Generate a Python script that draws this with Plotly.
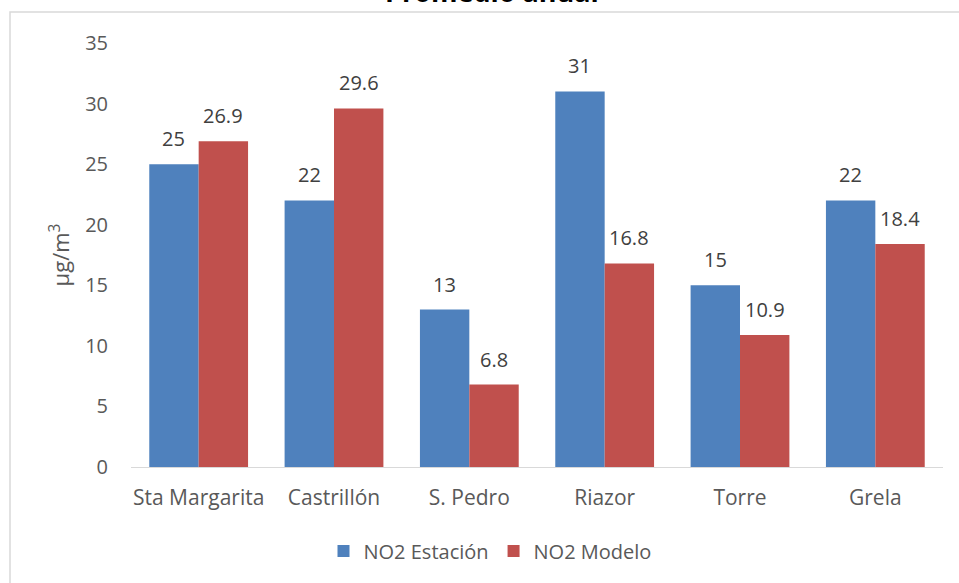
import plotly.graph_objects as go

categories = ["Sta Margarita", "Castrillón", "S. Pedro", "Riazor", "Torre", "Grela"]
estacion = [25, 22, 13, 31, 15, 22]
modelo = [26.9, 29.6, 6.8, 16.8, 10.9, 18.4]
estacion_labels = ["25", "22", "13", "31", "15", "22"]
modelo_labels = ["26.9", "29.6", "6.8", "16.8", "10.9", "18.4"]

FONT = "Open Sans"
W, H = 959, 583
ML, MR, MT, MB = 131, 16, 43, 116
PW = W - ML - MR
PH = H - MT - MB
BARGAP = 0.27
bar_px = PW / len(categories) * (1 - BARGAP) / 2

fig = go.Figure()
fig.add_trace(go.Bar(
    x=categories, y=estacion, name="NO2 Estación",
    marker=dict(color="#4F81BD", line=dict(width=0)),
))
fig.add_trace(go.Bar(
    x=categories, y=modelo, name="NO2 Modelo",
    marker=dict(color="#C0504D", line=dict(width=0)),
))

annotations = []
for vals, labels, sign in ((estacion, estacion_labels, -1), (modelo, modelo_labels, 1)):
    for c, v, t in zip(categories, vals, labels):
        annotations.append(dict(
            x=c, y=v, xref="x", yref="y", text=t, showarrow=False,
            xanchor="center", yanchor="bottom", xshift=sign * bar_px / 2, yshift=10,
            font=dict(family=FONT, size=20, color="#404040")))

annotations.append(dict(text="<b>Promedio anual</b>", xref="paper", yref="paper",
                        x=(492 - ML) / PW, y=(H - MB - 5) / PH, xanchor="center", yanchor="bottom",
                        yshift=-7, showarrow=False,
                        font=dict(family=FONT, size=27, color="black")))

fig.update_layout(
    width=W, height=H,
    margin=dict(l=ML, r=MR, t=MT, b=MB),
    paper_bgcolor="white", plot_bgcolor="white",
    barmode="group", bargap=BARGAP, bargroupgap=0,
    font=dict(family=FONT, color="#595959"),
    showlegend=True,
    legend=dict(orientation="h", x=(490 - ML) / PW, xanchor="center", y=-84 / PH, yanchor="middle",
                font=dict(family=FONT, size=20, color="#595959"),
                traceorder="normal", itemwidth=30),
    xaxis=dict(showgrid=False, showline=True, linecolor="#D9D9D9", linewidth=1,
               ticks="", tickfont=dict(family=FONT, size=21, color="#595959"),
               ticklabelstandoff=12),
    yaxis=dict(range=[0, 35], dtick=5, showgrid=False, showline=False, zeroline=False,
               ticks="", tickfont=dict(family=FONT, size=20, color="#595959"),
               ticklabelstandoff=22,
               title=dict(text="μg/m<sup>3</sup>", font=dict(family=FONT, size=22, color="#595959"),
                          standoff=9)),
    shapes=[dict(type="rect", xref="paper", yref="paper",
                 x0=(10 - ML) / PW, x1=(975 - ML) / PW,
                 y0=(H - MB - 600) / PH, y1=(H - MB - 12) / PH,
                 line=dict(color="#D9D9D9", width=1.5), fillcolor="rgba(0,0,0,0)", layer="below")],
    annotations=annotations,
)

fig.write_html("out.html")
